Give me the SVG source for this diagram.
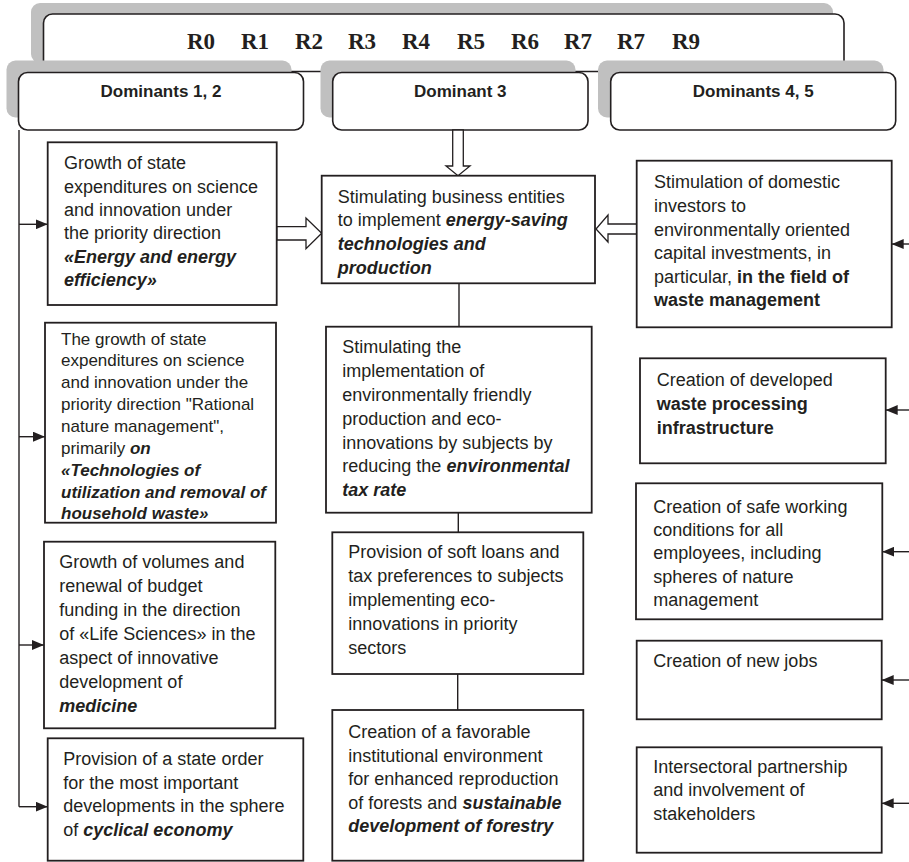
<svg xmlns="http://www.w3.org/2000/svg" width="909" height="862" viewBox="0 0 909 862">
<defs>
<style>
.sh{fill:#c0c0c0;stroke:none}
.rb{fill:#fff;stroke:#231f20;stroke-width:1.6}
.bx{fill:#fff;stroke:#231f20;stroke-width:1.8}
.t{font-family:"Liberation Sans",Arial,sans-serif;font-size:18px;fill:#231f20}
.s{font-size:17px}
.bi{font-weight:bold;font-style:italic}
.b{font-weight:bold}
.hd{font-family:"Liberation Sans",Arial,sans-serif;font-size:17px;font-weight:bold;fill:#231f20;text-anchor:middle}
.r{font-family:"Liberation Serif","Times New Roman",serif;font-size:23px;font-weight:bold;fill:#231f20}
.ln{fill:none;stroke:#231f20;stroke-width:1.4}
.ha{fill:#fff;stroke:#231f20;stroke-width:1.3}
</style>
<marker id="ah" viewBox="0 0 12 10" refX="12" refY="5" markerWidth="12" markerHeight="10" markerUnits="userSpaceOnUse" orient="auto">
<path d="M0,0 L12,5 L0,10 Z" fill="#231f20"/>
</marker>
</defs>

<g id="header">
<rect class="sh" x="31" y="3" width="802" height="60" rx="9"/>
<rect class="rb" x="43.5" y="14" width="800.5" height="57.5" rx="9"/>
<text class="r" y="48.5"><tspan x="187">R0</tspan><tspan x="241">R1</tspan><tspan x="295">R2</tspan><tspan x="348">R3</tspan><tspan x="402">R4</tspan><tspan x="457">R5</tspan><tspan x="511">R6</tspan><tspan x="564">R7</tspan><tspan x="617">R7</tspan><tspan x="672">R9</tspan></text>
</g>

<g id="dom12">
<rect class="sh" x="6.5" y="60.5" width="285" height="57" rx="9"/>
<rect class="rb" x="18.5" y="72.5" width="285" height="57.5" rx="9"/>
<text class="hd" x="161" y="97">Dominants 1, 2</text>
</g>
<g id="dom3">
<rect class="sh" x="320.5" y="60.5" width="255" height="57" rx="9"/>
<rect class="rb" x="332.7" y="72.5" width="255.3" height="57.5" rx="9"/>
<text class="hd" x="460.3" y="97">Dominant 3</text>
</g>
<g id="dom45">
<rect class="sh" x="598" y="60.5" width="285.5" height="57" rx="9"/>
<rect class="rb" x="610.7" y="72.5" width="285" height="57.5" rx="9"/>
<text class="hd" x="753.2" y="97">Dominants 4, 5</text>
</g>

<g id="connectors">
<path class="ln" d="M19,130 V806.7"/>
<path class="ln" d="M19,224.3 H47.7" marker-end="url(#ah)"/>
<path class="ln" d="M19,436.7 H45" marker-end="url(#ah)"/>
<path class="ln" d="M19,645 H44" marker-end="url(#ah)"/>
<path class="ln" d="M19,806.7 H47.7" marker-end="url(#ah)"/>
<path class="ln" d="M909,244 H891.7" marker-end="url(#ah)"/>
<path class="ln" d="M909,410 H885.7" marker-end="url(#ah)"/>
<path class="ln" d="M909,551.7 H882.3" marker-end="url(#ah)"/>
<path class="ln" d="M909,680 H881.7" marker-end="url(#ah)"/>
<path class="ln" d="M909,803.3 H881.7" marker-end="url(#ah)"/>
<path class="ln" d="M459,283.3 V338"/>
<path class="ln" d="M458.3,512.7 V532.3"/>
<path class="ln" d="M457.7,674 V710"/>
<polygon class="ha" points="276.7,226.7 306,226.7 306,218 321.7,233.3 306,248.7 306,240 276.7,240"/>
<polygon class="ha" points="452.7,130 452.7,166 446,166 458,175.7 470,166 463.3,166 463.3,130"/>
<polygon class="ha" points="636.7,224 608,224 608,215 596,229 608,242 608,234 636.7,234"/>
</g>

<g id="left1">
<rect class="bx" x="47.7" y="142.3" width="229" height="162.7"/>
<text class="t"><tspan x="64" y="169.3">Growth of state</tspan><tspan x="64" y="192.6">expenditures on science</tspan><tspan x="64" y="215.9">and innovation under</tspan><tspan x="64" y="239.2">the priority direction</tspan><tspan x="64" y="262.5" class="bi">«Energy and energy</tspan><tspan x="64" y="285.8" class="bi">efficiency»</tspan></text>
</g>

<g id="left2">
<rect class="bx" x="45" y="322.7" width="231" height="200"/>
<text class="t s"><tspan x="61" y="344.5">The growth of state</tspan><tspan x="61" y="366.4">expenditures on science</tspan><tspan x="61" y="388.3">and innovation under the</tspan><tspan x="61" y="410.2">priority direction "Rational</tspan><tspan x="61" y="432.1">nature management",</tspan><tspan x="61" y="454">primarily <tspan class="bi">on</tspan></tspan><tspan x="61" y="475.9" class="bi">«Technologies of</tspan><tspan x="61" y="497.8" class="bi">utilization and removal of</tspan><tspan x="61" y="519.3" class="bi">household waste»</tspan></text>
</g>

<g id="left3">
<rect class="bx" x="44" y="541.7" width="231.3" height="186.6"/>
<text class="t"><tspan x="59.3" y="568.3">Growth of volumes and</tspan><tspan x="59.3" y="592.2">renewal of budget</tspan><tspan x="59.3" y="616.1">funding in the direction</tspan><tspan x="59.3" y="640">of «Life Sciences» in the</tspan><tspan x="59.3" y="663.9">aspect of innovative</tspan><tspan x="59.3" y="687.8">development of</tspan><tspan x="59.3" y="711.7" class="bi">medicine</tspan></text>
</g>

<g id="left4">
<rect class="bx" x="47.7" y="738.3" width="255.6" height="122.4"/>
<text class="t"><tspan x="63.3" y="765">Provision of a state order</tspan><tspan x="63.3" y="788.7">for the most important</tspan><tspan x="63.3" y="812.4">developments in the sphere</tspan><tspan x="63.3" y="836.1">of <tspan class="bi">cyclical economy</tspan></tspan></text>
</g>

<g id="mid1">
<rect class="bx" x="321.7" y="175.7" width="273.3" height="107.6"/>
<text class="t"><tspan x="337.7" y="202.7">Stimulating business entities</tspan><tspan x="337.7" y="226.3">to implement <tspan class="bi">energy-saving</tspan></tspan><tspan x="337.7" y="249.9" class="bi">technologies and</tspan><tspan x="337.7" y="273.5" class="bi">production</tspan></text>
</g>

<g id="mid2">
<rect class="bx" x="326" y="326.7" width="265.7" height="186"/>
<text class="t"><tspan x="342.3" y="353.3">Stimulating the</tspan><tspan x="342.3" y="377.1">implementation of</tspan><tspan x="342.3" y="400.9">environmentally friendly</tspan><tspan x="342.3" y="424.7">production and eco-</tspan><tspan x="342.3" y="448.5">innovations by subjects by</tspan><tspan x="342.3" y="472.3">reducing the <tspan class="bi">environmental</tspan></tspan><tspan x="342.3" y="496.1" class="bi">tax rate</tspan></text>
</g>

<g id="mid3">
<rect class="bx" x="332.3" y="532.3" width="251" height="141.7"/>
<text class="t"><tspan x="348.3" y="558.3">Provision of soft loans and</tspan><tspan x="348.3" y="582.3">tax preferences to subjects</tspan><tspan x="348.3" y="606.3">implementing eco-</tspan><tspan x="348.3" y="630.3">innovations in priority</tspan><tspan x="348.3" y="654.3">sectors</tspan></text>
</g>

<g id="mid4">
<rect class="bx" x="332.3" y="710" width="251" height="150.7"/>
<text class="t"><tspan x="348.3" y="738.3">Creation of a favorable</tspan><tspan x="348.3" y="761.8">institutional environment</tspan><tspan x="348.3" y="785.3">for enhanced reproduction</tspan><tspan x="348.3" y="808.8">of forests and <tspan class="bi">sustainable</tspan></tspan><tspan x="348.3" y="832.3" class="bi">development of forestry</tspan></text>
</g>

<g id="right1">
<rect class="bx" x="636.7" y="160.7" width="255" height="166.6"/>
<text class="t"><tspan x="654" y="188.3">Stimulation of domestic</tspan><tspan x="654" y="211.9">investors to</tspan><tspan x="654" y="235.5">environmentally oriented</tspan><tspan x="654" y="259.1">capital investments, in</tspan><tspan x="654" y="282.7">particular, <tspan class="b">in the field of</tspan></tspan><tspan x="654" y="306.3" class="b">waste management</tspan></text>
</g>

<g id="right2">
<rect class="bx" x="640" y="358.3" width="245.7" height="105"/>
<text class="t"><tspan x="656.7" y="386.3">Creation of developed</tspan><tspan x="656.7" y="410" class="b">waste processing</tspan><tspan x="656.7" y="433.7" class="b">infrastructure</tspan></text>
</g>

<g id="right3">
<rect class="bx" x="636" y="483.3" width="246.3" height="136"/>
<text class="t"><tspan x="653.3" y="512.7">Creation of safe working</tspan><tspan x="653.3" y="536">conditions for all</tspan><tspan x="653.3" y="559.3">employees, including</tspan><tspan x="653.3" y="582.6">spheres of nature</tspan><tspan x="653.3" y="605.9">management</tspan></text>
</g>

<g id="right4">
<rect class="bx" x="636.7" y="640.7" width="245" height="78.6"/>
<text class="t"><tspan x="653.3" y="667.3">Creation of new jobs</tspan></text>
</g>

<g id="right5">
<rect class="bx" x="636.7" y="747.3" width="245" height="105.4"/>
<text class="t"><tspan x="653.3" y="772.7">Intersectoral partnership</tspan><tspan x="653.3" y="796.4">and involvement of</tspan><tspan x="653.3" y="820.1">stakeholders</tspan></text>
</g>
</svg>
